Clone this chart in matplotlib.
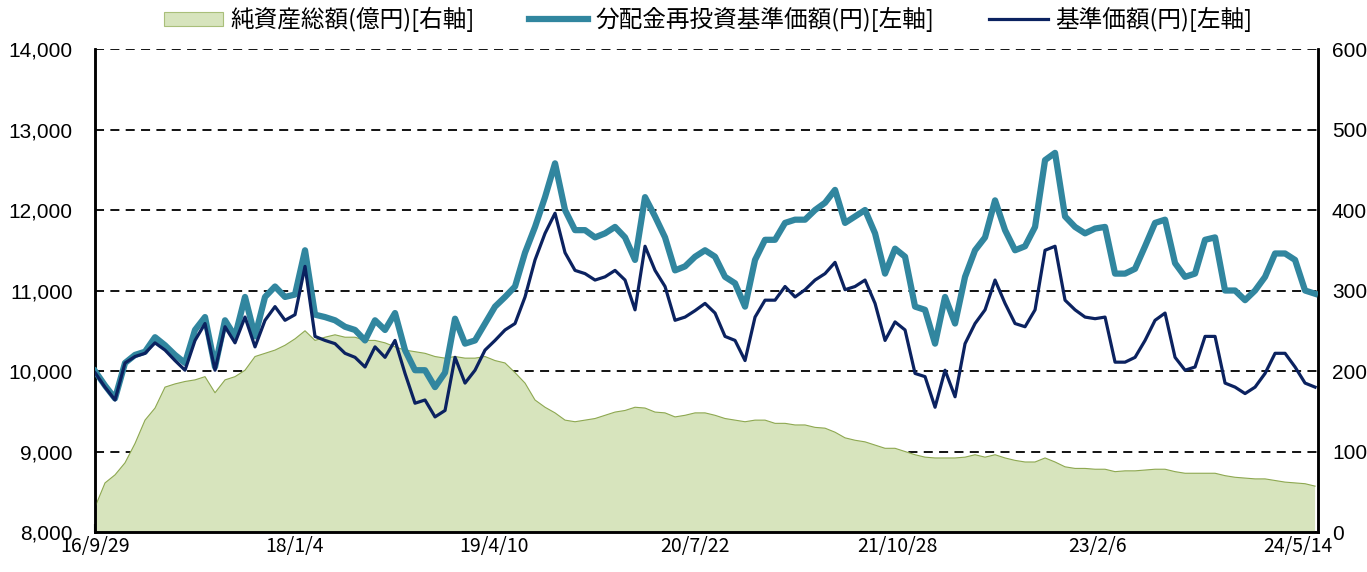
import numpy as np
import matplotlib
matplotlib.use("Agg")
import matplotlib.pyplot as plt
from matplotlib.patches import Patch
from matplotlib.lines import Line2D

# 基準価額の推移（10px毎に読み取り）
date_labels = ["16/9/29", "18/1/4", "19/4/10", "20/7/22", "21/10/28", "23/2/6", "24/5/14"]
date_pos = [0, 19.9, 39.9, 60.0, 80.2, 100.2, 120.3]

reinvest_nav = [
    10000, 9820, 9660, 10100, 10200, 10240, 10420, 10320, 10200, 10100,
    10510, 10670, 10050, 10630, 10430, 10920, 10430, 10920, 11050, 10920,
    10950, 11500, 10700, 10670, 10630, 10550, 10510, 10380, 10630, 10510,
    10720, 10260, 10010, 10010, 9800, 9980, 10650, 10340, 10380, 10590,
    10800, 10920, 11050, 11470, 11790, 12160, 12580, 12000, 11750, 11750,
    11660, 11710, 11790, 11660, 11380, 12160, 11920, 11660, 11250, 11300,
    11420, 11500, 11420, 11170, 11090, 10800, 11380, 11630, 11630, 11840,
    11880, 11880, 12000, 12090, 12250, 11840, 11920, 12000, 11710, 11210,
    11520, 11420, 10800, 10760, 10340, 10920, 10590, 11170, 11500, 11660,
    12120, 11750, 11500, 11550, 11790, 12620, 12710, 11920, 11790, 11710,
    11770, 11790, 11210, 11210, 11270, 11550, 11840, 11880, 11340, 11170,
    11210, 11630, 11660, 11000, 11000, 10880, 11000, 11170, 11460, 11460,
    11380, 11000, 10960,
]

nav = [
    9980, 9800, 9640, 10100, 10180, 10220, 10350, 10260, 10130, 10010,
    10380, 10590, 10010, 10550, 10350, 10670, 10300, 10630, 10800, 10630,
    10700, 11300, 10430, 10380, 10340, 10220, 10170, 10050, 10300, 10170,
    10380, 9970, 9600, 9640, 9430, 9510, 10170, 9850, 10010, 10260,
    10380, 10510, 10590, 10920, 11380, 11710, 11960, 11470, 11250, 11210,
    11130, 11170, 11250, 11130, 10760, 11550, 11250, 11050, 10630, 10670,
    10750, 10840, 10720, 10430, 10380, 10130, 10670, 10880, 10880, 11050,
    10920, 11010, 11130, 11210, 11350, 11010, 11050, 11130, 10840, 10380,
    10610, 10510, 9970, 9930, 9550, 10010, 9680, 10340, 10590, 10760,
    11130, 10840, 10590, 10550, 10760, 11500, 11550, 10880, 10760, 10670,
    10650, 10670, 10110, 10110, 10170, 10380, 10630, 10720, 10170, 10010,
    10050, 10430, 10430, 9850, 9800, 9720, 9800, 9970, 10220, 10220,
    10050, 9850, 9800,
]

net_assets = [
    31, 61, 71, 86, 110, 139, 154, 180, 184, 187,
    189, 193, 173, 189, 193, 201, 218, 222, 226, 232,
    240, 250, 238, 242, 245, 242, 242, 238, 238, 235,
    230, 226, 224, 222, 218, 216, 218, 216, 216, 218,
    213, 210, 198, 185, 164, 155, 148, 139, 137, 139,
    141, 145, 149, 151, 155, 154, 149, 148, 143, 145,
    148, 148, 145, 141, 139, 137, 139, 139, 135, 135,
    133, 133, 130, 129, 124, 117, 114, 112, 108, 104,
    104, 100, 96, 93, 92, 92, 92, 93, 96, 93,
    96, 92, 89, 87, 87, 92, 87, 81, 79, 79,
    78, 78, 75, 76, 76, 77, 78, 78, 75, 73,
    73, 73, 73, 70, 68, 67, 66, 66, 64, 62,
    61, 60, 57,
]

x = np.arange(len(nav))

plt.rcParams["font.family"] = ["Noto Sans CJK JP", "DejaVu Sans"]

fig = plt.figure(figsize=(13.67, 5.72), dpi=100)
ax2 = fig.add_axes([0.0695, 0.0699, 0.8947, 0.8444])
ax = ax2.twinx()
ax.set_position(ax2.get_position())

# 右軸: 純資産総額（面）とグリッド
ax2.fill_between(x, net_assets, 0, color="#D7E4BD", edgecolor="none", zorder=2)
ax2.plot(x, net_assets, color="#8EA851", linewidth=0.8, zorder=3)
ax2.set_ylim(0, 600)
ax2.set_yticks(np.arange(0, 601, 100))
ax2.set_axisbelow(True)
ax2.yaxis.grid(True, color="black", linestyle=(0, (5, 3.5)), linewidth=1.3, zorder=1)
ax2.yaxis.tick_right()
ax2.yaxis.set_label_position("right")

# 左軸: 基準価額の線
ax.plot(x, reinvest_nav, color="#31869F", linewidth=4.5, solid_joinstyle="round", zorder=3)
ax.plot(x, nav, color="#0B2260", linewidth=2.3, solid_joinstyle="round", zorder=4)
ax.set_ylim(8000, 14000)
ax.set_yticks(np.arange(8000, 14001, 1000))
ax.set_yticklabels([f"{v:,}" for v in range(8000, 14001, 1000)])
ax.yaxis.tick_left()

for a in (ax, ax2):
    a.set_xlim(0, 122.3)
    a.spines["top"].set_visible(False)
    for s in ("left", "right", "bottom"):
        a.spines[s].set_linewidth(1.8)
        a.spines[s].set_color("black")

ax.set_zorder(ax2.get_zorder() + 1)
ax.patch.set_visible(False)

ax2.set_xticks(date_pos)
ax2.set_xticklabels(date_labels, fontsize=14)
ax2.tick_params(axis="x", direction="in", length=6, width=1.5, pad=3)
ax.tick_params(axis="x", bottom=False, labelbottom=False)
ax.tick_params(axis="y", length=0, pad=16)
ax2.tick_params(axis="y", length=0, pad=10)
for lab in ax.get_yticklabels() + ax2.get_yticklabels():
    lab.set_fontfamily("Liberation Sans")
    lab.set_fontsize(15)

handles = [
    Patch(facecolor="#D7E4BD", edgecolor="#A9BF7A", linewidth=0.8),
    Line2D([0], [0], color="#31869F", linewidth=4.5),
    Line2D([0], [0], color="#0B2260", linewidth=2.3),
]
labels = ["純資産総額(億円)[右軸]", "分配金再投資基準価額(円)[左軸]", "基準価額(円)[左軸]"]
fig.legend(handles, labels, loc="upper center", bbox_to_anchor=(0.518, 1.025), ncol=3,
           frameon=False, fontsize=17, handlelength=2.5, handleheight=0.55,
           handletextpad=0.3, columnspacing=2.3)

fig.savefig("out.png", dpi=100)
